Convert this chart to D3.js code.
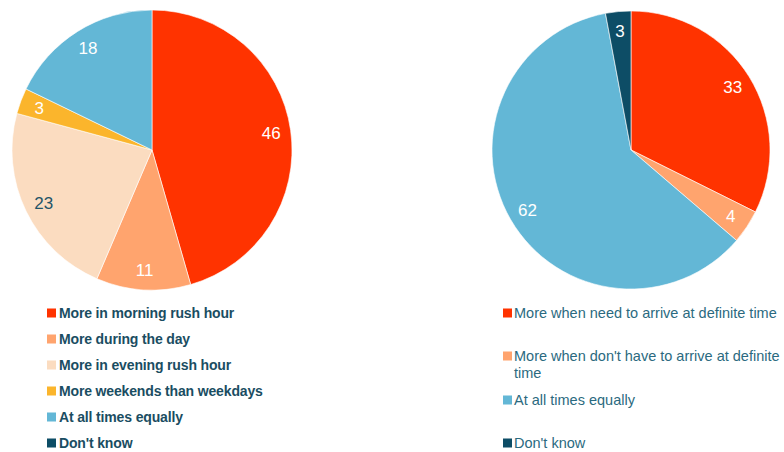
<!DOCTYPE html>
<html>
<head>
<meta charset="utf-8">
<script src="https://cdn.jsdelivr.net/npm/d3@7"></script>
<style>
  body { margin: 0; background: #fff; }
  svg { display: block; font-family: Arial, "Liberation Sans", sans-serif; }
</style>
</head>
<body>
<svg id="chart" width="784" height="452"></svg>
<script>
// left pie: when do you travel
const leftCategories = ["More in morning rush hour", "More during the day", "More in evening rush hour",
  "More weekends than weekdays", "At all times equally", "Don't know"];
const leftValues = [46, 11, 23, 3, 18, 0];
const leftColors = ["#ff3300", "#ffa46e", "#fbdcc0", "#fbb52c", "#63b7d6", "#0d4d66"];
const leftLabelColors = ["#fff", "#fff", "#1f5468", "#fff", "#fff", "#fff"];

// right pie
const rightCategories = ["More when need to arrive at definite time",
  "More when don't have to arrive at definite time", "At all times equally", "Don't know"];
const rightValues = [33, 4, 62, 3];
const rightColors = ["#ff3300", "#ffa46e", "#63b7d6", "#0d4d66"];

const svg = d3.select('#chart');

const pie = d3.pie().sort(null).value(d => d.v);

const drawPie = (cx, cy, r, cats, vals, colors, labelColors, cls) => {
  const data = cats.map((c, i) => ({ c, v: vals[i], col: colors[i], lc: labelColors[i] }));
  const arc = d3.arc().innerRadius(0).outerRadius(r);
  const labelArc = d3.arc().innerRadius(r * 0.86).outerRadius(r * 0.86);

  const g = svg.append('g')
    .attr('class', cls)
    .attr('transform', `translate(${cx},${cy})`);

  const arcs = pie(data).filter(d => d.data.v > 0);

  g.selectAll('path')
    .data(arcs)
    .join('path')
      .attr('d', arc)
      .attr('fill', d => d.data.col)
      .attr('stroke', '#fff')
      .attr('stroke-width', 0.6);

  g.selectAll('text')
    .data(arcs)
    .join('text')
      .attr('transform', d => `translate(${labelArc.centroid(d)})`)
      .attr('text-anchor', 'middle')
      .attr('dy', '0.36em')
      .attr('font-size', 17)
      .attr('fill', d => d.data.lc)
      .text(d => d.data.v);
};

drawPie(152, 150, 140, leftCategories, leftValues, leftColors, leftLabelColors, 'pie-left');
drawPie(631, 150, 139, rightCategories, rightValues, rightColors, rightColors.map(() => '#fff'), 'pie-right');

// left legend
const leftY = d3.scalePoint().domain(leftCategories).range([313, 443]);
const leftLegend = svg.append('g').attr('class', 'legend-left')
  .selectAll('g')
  .data(leftCategories)
  .join('g')
    .attr('transform', d => `translate(47,${leftY(d)})`);

leftLegend.append('rect')
  .attr('x', 0).attr('y', -4.5)
  .attr('width', 9).attr('height', 9)
  .attr('fill', (d, i) => leftColors[i]);

leftLegend.append('text')
  .attr('x', 12)
  .attr('dy', '0.36em')
  .attr('font-size', 14)
  .attr('font-weight', 'bold')
  .attr('letter-spacing', -0.15)
  .attr('fill', '#1a4d62')
  .text(d => d);

// right legend, rows placed by hand-read positions
const rightRows = [313, 356, 400, 443];
const rightLines = [["More when need to arrive at definite time"],
  ["More when don't have to arrive at definite", "time"], ["At all times equally"], ["Don't know"]];

const rightLegend = svg.append('g').attr('class', 'legend-right')
  .selectAll('g')
  .data(rightCategories)
  .join('g')
    .attr('transform', (d, i) => `translate(503,${rightRows[i]})`);

rightLegend.append('rect')
  .attr('x', 0).attr('y', -4.5)
  .attr('width', 9).attr('height', 9)
  .attr('fill', (d, i) => rightColors[i]);

rightLegend.append('text')
  .attr('font-size', 14.5)
  .attr('fill', '#2b6a80')
  .selectAll('tspan')
  .data((d, i) => rightLines[i])
  .join('tspan')
    .attr('x', 11)
    .attr('y', (d, i) => i * 17)
    .attr('dy', '0.36em')
    .text(d => d);
</script>
</body>
</html>
